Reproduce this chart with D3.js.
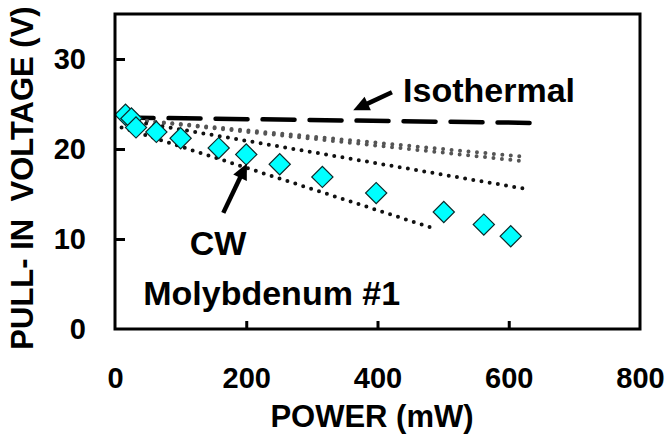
<!DOCTYPE html>
<html>
<head>
<meta charset="utf-8">
<script src="https://cdn.jsdelivr.net/npm/d3@7"></script>
<style>
  body { margin: 0; background: #fff; }
  svg { display: block; }
  text { font-family: "Liberation Sans", Arial, sans-serif; font-weight: bold; fill: #000; }
</style>
</head>
<body>
<div id="chart"></div>
<script>
// measured CW data, Molybdenum #1
var power = [16, 25, 32, 63, 100, 158, 200, 251, 316, 398, 501, 562, 603];
var voltage = [23.8, 23.4, 22.4, 21.9, 21.2, 20.1, 19.4, 18.3, 16.9, 15.1, 13.0, 11.6, 10.3];

// model curves [power, voltage]
var isothermalLine = [[10, 23.5], [634, 22.9]];
var grayLineA = [[10, 23.4], [628, 19.1]];
var grayLineB = [[10, 23.4], [628, 18.6]];
var blackLineMid = [[10, 23.3], [623, 15.6]];
var blackLineLow = [[10, 22.4], [489, 11.1]];

var xTicks = [0, 200, 400, 600, 800];
var yTicks = [0, 10, 20, 30];

var width = 668, height = 439;

var svg = d3.select('#chart').append('svg')
  .attr('width', width)
  .attr('height', height);

var x = d3.scaleLinear().domain([0, 800]).range([115, 640]);
var y = d3.scaleLinear().domain([0, 35]).range([329, 14]);

var line = d3.line()
  .x(function(d){ return x(d[0]); })
  .y(function(d){ return y(d[1]); });

// model lines
svg.append('path').datum(isothermalLine)
  .attr('d', line).attr('fill', 'none')
  .attr('stroke', '#000').attr('stroke-width', 4.5)
  .attr('stroke-dasharray', '32 15').attr('stroke-linecap', 'round');

[grayLineA, grayLineB].forEach(function(l){
  svg.append('path').datum(l)
    .attr('d', line).attr('fill', 'none')
    .attr('stroke', '#555').attr('stroke-width', 4)
    .attr('stroke-dasharray', '0 8.5').attr('stroke-linecap', 'round');
});

[blackLineMid, blackLineLow].forEach(function(l){
  svg.append('path').datum(l)
    .attr('d', line).attr('fill', 'none')
    .attr('stroke', '#111').attr('stroke-width', 4)
    .attr('stroke-dasharray', '0 8.3').attr('stroke-linecap', 'round');
});

// data points (diamonds)
var pts = power.map(function(p, i){ return [p, voltage[i]]; });
var diamond = d3.symbol().type(d3.symbolSquare).size(225);

svg.selectAll('.pt')
  .data(pts)
  .enter().append('path')
  .attr('class', 'pt')
  .attr('d', diamond)
  .attr('transform', function(d){ return 'translate(' + x(d[0]) + ',' + y(d[1]) + ') rotate(45)'; })
  .attr('fill', '#00ffff')
  .attr('stroke', '#0b2a2a')
  .attr('stroke-width', 1.2);

// frame
svg.append('rect')
  .attr('x', x(0)).attr('y', y(35))
  .attr('width', x(800) - x(0)).attr('height', y(0) - y(35))
  .attr('fill', 'none').attr('stroke', '#000').attr('stroke-width', 3);

// axes
var yAxis = svg.append('g')
  .attr('transform', 'translate(' + x(0) + ',0)')
  .call(d3.axisLeft(y).tickValues(yTicks).tickSize(-10).tickPadding(29));
var xAxis = svg.append('g')
  .attr('transform', 'translate(0,' + y(0) + ')')
  .call(d3.axisBottom(x).tickValues(xTicks).tickSize(-8).tickPadding(38));

[xAxis, yAxis].forEach(function(a){
  a.select('.domain').remove();
  a.selectAll('line').attr('stroke', '#000').attr('stroke-width', 3);
  a.selectAll('text')
    .attr('fill', '#000')
    .style('font-size', '29px')
    .style('font-family', '"Liberation Sans", Arial, sans-serif')
    .style('font-weight', 'bold');
});
xAxis.selectAll('.tick').filter(function(d){ return d === 800 || d === 0; }).select('line').remove();
yAxis.selectAll('.tick').filter(function(d){ return d === 0; }).select('line').remove();

// axis titles
svg.append('text')
  .attr('x', 372).attr('y', 427)
  .attr('text-anchor', 'middle')
  .style('font-size', '31px')
  .text('POWER (mW)');

svg.append('text')
  .attr('transform', 'translate(33,178) rotate(-90)')
  .attr('text-anchor', 'middle')
  .style('font-size', '31px')
  .style('white-space', 'pre')
  .text('PULL- IN  VOLTAGE (V)');

// annotations
function arrow(from, to){
  var x0 = x(from[0]), y0 = y(from[1]), x1 = x(to[0]), y1 = y(to[1]);
  var dx = x1 - x0, dy = y1 - y0, len = Math.sqrt(dx*dx + dy*dy);
  var ux = dx/len, uy = dy/len;
  var head = 16, hw = 7.5;
  var bx = x1 - ux*head, by = y1 - uy*head;
  svg.append('line')
    .attr('x1', x0).attr('y1', y0).attr('x2', bx + ux*2).attr('y2', by + uy*2)
    .attr('stroke', '#000').attr('stroke-width', 4.5);
  svg.append('path')
    .attr('d', 'M' + x1 + ',' + y1 +
      'L' + (bx - uy*hw) + ',' + (by + ux*hw) +
      'L' + (bx + uy*hw) + ',' + (by - ux*hw) + 'Z')
    .attr('fill', '#000');
}

arrow([422, 26.3], [363, 24.3]);
arrow([165, 12.9], [201, 18.4]);

svg.append('text')
  .attr('x', x(439)).attr('y', y(25.2))
  .style('font-size', '34px')
  .text('Isothermal');

svg.append('text')
  .attr('x', x(157)).attr('y', y(8.2))
  .attr('text-anchor', 'middle')
  .style('font-size', '34px')
  .text('CW');

svg.append('text')
  .attr('x', x(43)).attr('y', y(2.67))
  .style('font-size', '34px')
  .text('Molybdenum #1');
</script>
</body>
</html>
